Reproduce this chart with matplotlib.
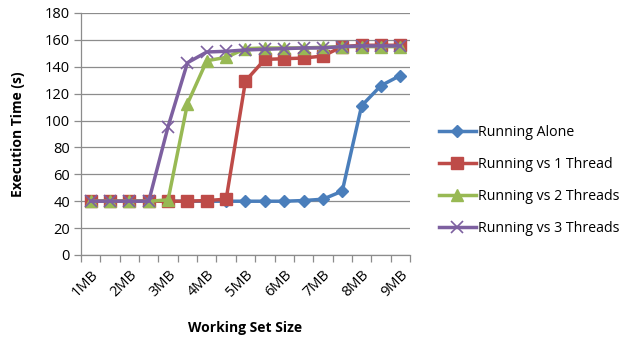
import matplotlib
matplotlib.use("Agg")
import matplotlib.pyplot as plt
from matplotlib.ticker import FixedLocator, MultipleLocator

plt.rcParams['font.family'] = ['Open Sans', 'DejaVu Sans']

categories = ["1MB", "1.5MB", "2MB", "2.5MB", "3MB", "3.5MB", "4MB", "4.5MB", "5MB",
              "5.5MB", "6MB", "6.5MB", "7MB", "7.5MB", "8MB", "8.5MB", "9MB"]
tick_labels = ["1MB", "2MB", "3MB", "4MB", "5MB", "6MB", "7MB", "8MB", "9MB"]

alone = [40, 40, 40, 40, 40, 40, 40, 40, 40, 40, 40, 40.5, 41.5, 47.5, 111, 126, 133.5]
vs1 = [40, 40, 40, 40, 40, 40, 40.5, 41.5, 129.5, 145.5, 146, 146.5, 148, 155, 156, 156, 156]
vs2 = [40, 40, 40, 40, 41, 112.5, 144.5, 147, 153.5, 154, 154, 154, 154.5, 155, 155, 155, 155]
vs3 = [40, 40, 40, 40, 95.5, 143, 151, 151.5, 152.5, 153, 153.5, 154, 154, 155, 155.5, 155.5, 155.5]

series = [
    ("Running Alone", alone, "#4A7EBB", "D", 6),
    ("Running vs 1 Thread", vs1, "#BE4B48", "s", 8),
    ("Running vs 2 Threads", vs2, "#98B954", "^", 8),
    ("Running vs 3 Threads", vs3, "#7D60A0", "x", 8),
]

fig = plt.figure(figsize=(6.26, 3.4), dpi=100)
ax = fig.add_axes([81/626, 85/340, (410-81)/626, (255-13)/340])

x = list(range(len(categories)))
for name, vals, color, marker, ms in series:
    kw = dict(markeredgecolor=color, markerfacecolor=color)
    if marker == "x":
        kw["markeredgewidth"] = 1.2
    ax.plot(x, vals, color=color, linewidth=2.5, marker=marker, markersize=ms, label=name, **kw)

ax.set_xlim(-0.5, len(categories) - 0.5)
ax.set_ylim(0, 180)
ax.yaxis.set_major_locator(MultipleLocator(20))
ax.grid(axis='y', color='#8C8C8C', linewidth=0.9)
ax.set_axisbelow(True)

ax.xaxis.set_major_locator(FixedLocator(list(range(0, len(categories), 2))))
ax.set_xticklabels(tick_labels, rotation=45, ha='right', va='top', rotation_mode='anchor', fontsize=10.5)
ax.xaxis.set_minor_locator(FixedLocator([i - 0.5 for i in range(len(categories) + 1)]))
ax.tick_params(axis='x', which='major', length=0, pad=9)
ax.tick_params(axis='x', which='minor', length=5, color='#8C8C8C', width=0.9)
ax.tick_params(axis='y', which='major', length=5, color='#8C8C8C', width=0.9, labelsize=10.5, pad=3)

for s in ['top', 'right']:
    ax.spines[s].set_visible(False)
for s in ['left', 'bottom']:
    ax.spines[s].set_color('#8C8C8C')
    ax.spines[s].set_linewidth(0.9)

ax.set_ylabel("Execution Time (s)", fontsize=10, fontweight='bold', labelpad=14)
ax.set_xlabel("Working Set Size", fontsize=10, fontweight='bold', labelpad=15)

leg = fig.legend(loc='upper left', bbox_to_anchor=(426/626, 1 - 112/340), frameon=False,
                 fontsize=10.2, handlelength=2.6, handletextpad=0.15, labelspacing=1.2)

fig.savefig("out.png", dpi=100)
